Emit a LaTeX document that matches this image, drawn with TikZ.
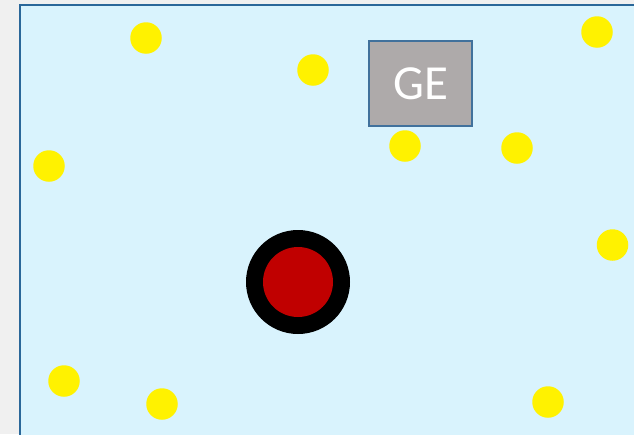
\documentclass[tikz,border=0pt]{standalone}
\usepackage{fontspec}
\setmainfont{Carlito}
\definecolor{pagebg}{HTML}{F0F0F0}
\definecolor{skyfill}{HTML}{D9F3FD}
\definecolor{skyline}{HTML}{2A6799}
\definecolor{boxfill}{HTML}{AEAAAA}
\definecolor{boxline}{HTML}{41719C}
\definecolor{redcore}{HTML}{C00000}
\tikzset{
  sun/.style={circle, fill=yellow, draw=none, minimum size=31.5pt, inner sep=0pt},
  gebox/.style={rectangle, fill=boxfill, draw=boxline, line width=2pt, minimum width=103pt, minimum height=85.3pt, inner sep=0pt, text=white, font=\fontsize{49}{55}\selectfont},
}
\begin{document}
\begin{tikzpicture}[x=1pt,y=-1pt]
\useasboundingbox (0,0) rectangle (634,434);
\fill[pagebg] (0,0) rectangle (634,434);
\draw[fill=skyfill, draw=skyline, line width=2pt] (20,5) rectangle (660,460);
\node[sun] (s1) at (146,38) {};
\node[sun] (s2) at (313,70) {};
\node[sun] (s3) at (597,32) {};
\node[sun] (s4) at (49,166) {};
\node[sun] (s5) at (405,146) {};
\node[sun] (s6) at (517,148) {};
\node[sun] (s7) at (612.5,245) {};
\node[sun] (s8) at (64,381) {};
\node[sun] (s9) at (162,404) {};
\node[sun] (s10) at (548,402) {};
\node[gebox] (ge) at (420.8,83.7) {GE};
\node[circle, fill=black, minimum size=104pt, inner sep=0pt] (outer) at (298,282) {};
\node[circle, fill=redcore, minimum size=70pt, inner sep=0pt] (core) at (298,282) {};
\end{tikzpicture}
\end{document}
